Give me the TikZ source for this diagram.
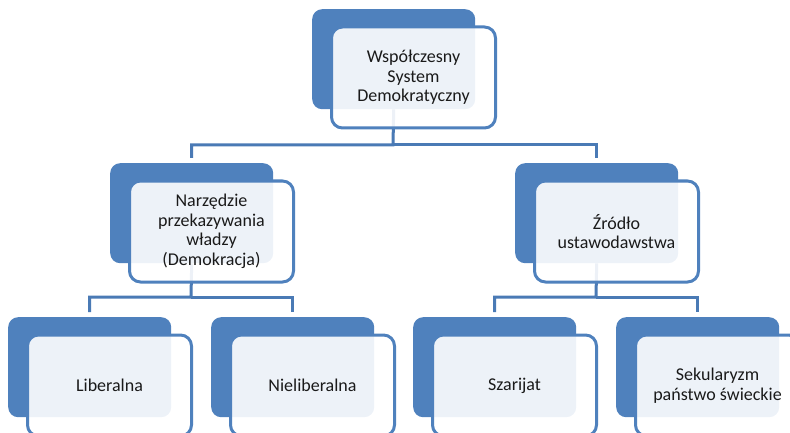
\documentclass[tikz,border=0pt]{standalone}
\usepackage{fontspec}
\setmainfont{Carlito}
\definecolor{ofblue}{HTML}{4F81BD}
\definecolor{conncol}{HTML}{4A7AB5}
\definecolor{txtcol}{HTML}{1A1A1A}
\begin{document}
\begin{tikzpicture}[x=1pt,y=-1pt,
  backbox/.style={rectangle,rounded corners=10pt,fill=ofblue,draw=none,
    minimum width=163pt,minimum height=100pt,anchor=north west,inner sep=0pt},
  frontbox/.style={rectangle,rounded corners=11pt,fill=white,fill opacity=0.9,text opacity=1,
    draw=ofblue,draw opacity=1,line width=3pt,minimum width=164pt,minimum height=101pt,
    anchor=north west,inner sep=2pt,align=center,text=txtcol,
    font=\fontsize{18}{19.5}\selectfont},
  conn/.style={draw=conncol,line width=3pt}]
\useasboundingbox (0,0) rectangle (790,433);
\clip (0,0) rectangle (790,433);
% back boxes
\node[backbox] (topB) at (312,9) {};
\node[backbox] (naB) at (110,163) {};
\node[backbox] (zrB) at (515,163) {};
\node[backbox] (liB) at (8,317) {};
\node[backbox] (niB) at (211,317) {};
\node[backbox] (szB) at (413,317) {};
\node[backbox] (seB) at (616,317) {};
% connectors
\coordinate (j1) at (393,145);
\coordinate (j2) at (191,297);
\coordinate (j3) at (596,297);
\draw[conn] (topB.south) -- (j1) -| ([yshift=5pt]naB.north);
\draw[conn] (j1) -| ([yshift=5pt]zrB.north);
\draw[conn] (naB.south) -- (j2) -| ([yshift=5pt]liB.north);
\draw[conn] (j2) -| ([yshift=5pt]niB.north);
\draw[conn] (zrB.south) -- (j3) -| ([yshift=5pt]szB.north);
\draw[conn] (j3) -| ([yshift=5pt]seB.north);
% front boxes
\node[frontbox] (top) at (330,25.5) {Współczesny\\System\\Demokratyczny};
\node[frontbox] (na) at (128,179.5) {Narzędzie\\przekazywania\\władzy\\(Demokracja)};
\node[frontbox] (zr) at (533,179.5) {Źródło\\ustawodawstwa};
\node[frontbox] (li) at (26,333.5) {Liberalna};
\node[frontbox] (ni) at (229,333.5) {Nieliberalna};
\node[frontbox] (sz) at (431,333.5) {Szarijat};
\node[frontbox] (se) at (634,333.5) {Sekularyzm\\państwo świeckie};
\end{tikzpicture}
\end{document}
